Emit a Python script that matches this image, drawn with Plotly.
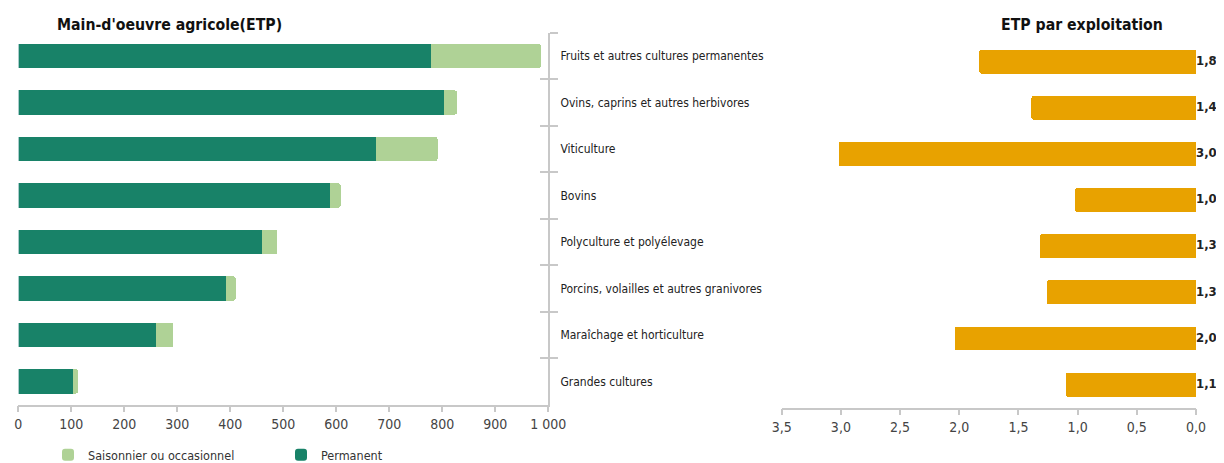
import plotly.graph_objects as go

categories = [
    "Fruits et autres cultures permanentes",
    "Ovins, caprins et autres herbivores",
    "Viticulture",
    "Bovins",
    "Polyculture et polyélevage",
    "Porcins, volailles et autres granivores",
    "Maraîchage et horticulture",
    "Grandes cultures",
]
permanent = [779, 803, 674, 588, 459, 392, 260, 104]
saisonnier = [207, 25, 117, 20, 30, 18, 32, 9]
etp_par_exploitation = [1.83, 1.39, 3.02, 1.02, 1.32, 1.26, 2.04, 1.10]
left_ticks = [0, 100, 200, 300, 400, 500, 600, 700, 800, 900, 1000]
right_ticks = [3.5, 3.0, 2.5, 2.0, 1.5, 1.0, 0.5, 0.0]

FONT = "DejaVu Sans Condensed, Liberation Sans Narrow, Arial Narrow, sans-serif"
C_PERM = "#188268"
C_SAIS = "#AFD296"
C_ETP = "#E8A200"
AX = "#C8C8C8"
# the page body adds an 8 px offset; the figure is sized so it ends at the window edge
OFF = 8
W, H = 1224 - OFF, 463 - OFF


def px(x):
    return (x - OFF) / W


def py(y):
    return 1 - (y - OFF) / H


fig = go.Figure()
fig.add_trace(go.Bar(y=categories, x=permanent, orientation="h", name="Permanent",
                     marker=dict(color=C_PERM, line=dict(width=0)), xaxis="x", yaxis="y"))
fig.add_trace(go.Bar(y=categories, x=saisonnier, orientation="h", name="Saisonnier ou occasionnel",
                     marker=dict(color=C_SAIS, line=dict(width=0)), xaxis="x", yaxis="y"))
fig.add_trace(go.Bar(y=categories, x=etp_par_exploitation, orientation="h", showlegend=False,
                     marker=dict(color=C_ETP, line=dict(width=0)), xaxis="x2", yaxis="y2"))
fig.add_trace(go.Scatter(y=categories, x=[0] * len(categories), mode="text",
                         text=[f"{v:.1f}".replace(".", ",") for v in etp_par_exploitation],
                         textposition="middle right", cliponaxis=False, showlegend=False,
                         textfont=dict(family=FONT, size=13, color="#222"),
                         texttemplate="<b>%{text}</b>",
                         xaxis="x2", yaxis="y2", hoverinfo="skip"))
# transparent helper trace so the overlay axis (inner tick marks) is drawn
fig.add_trace(go.Bar(y=categories, x=[0] * len(categories), orientation="h", showlegend=False,
                     xaxis="x", yaxis="y3", hoverinfo="skip", marker=dict(color="rgba(0,0,0,0)")))

tickfont = dict(family=FONT, size=14, color="#444")
left_dom_x = [px(18.3), px(548.3)]
left_dom_y = [py(404.7), py(32.8)]
right_dom_x = [px(781.7), px(1196)]
right_dom_y = [py(407.7), py(38.6)]

fig.update_layout(
    width=W, height=H,
    margin=dict(l=0, r=0, t=0, b=0, autoexpand=False),
    paper_bgcolor="white", plot_bgcolor="white",
    separators=", ",
    barmode="stack", bargap=0.48, barcornerradius=2,
    font=dict(family=FONT, size=13, color="#333"),
    xaxis=dict(domain=left_dom_x, range=[0, 1000], tickvals=left_ticks, tickformat=",d",
               showline=True, linecolor=AX, linewidth=1.5, ticks="outside", ticklen=6,
               tickcolor=AX, tickwidth=1.5, showgrid=False, zeroline=False, automargin=False,
               tickfont=tickfont, anchor="y", fixedrange=True),
    yaxis=dict(domain=left_dom_y, autorange="reversed", side="right", anchor="x",
               showline=True, linecolor=AX, linewidth=1.5, ticks="outside", ticklen=8,
               tickcolor=AX, tickwidth=1.5, tickson="boundaries", showgrid=False,
               automargin=False,
               tickfont=dict(family=FONT, size=12, color="#222"), ticklabelstandoff=8),
    yaxis3=dict(domain=left_dom_y, autorange="reversed", side="right", anchor="x",
                overlaying="y", matches="y", showline=False, ticks="inside", ticklen=8,
                tickcolor=AX, tickwidth=1.5, tickson="boundaries", showticklabels=False,
                showgrid=False, automargin=False),
    xaxis2=dict(domain=right_dom_x, range=[3.5, 0], tickvals=right_ticks, tickformat=".1f",
                showline=True, linecolor=AX, linewidth=1.5, ticks="outside", ticklen=6,
                tickcolor=AX, tickwidth=1.5, showgrid=False, zeroline=False, automargin=False,
                tickfont=tickfont, anchor="y2"),
    yaxis2=dict(domain=right_dom_y, autorange="reversed", anchor="x2", visible=False,
                automargin=False),
    legend=dict(orientation="h", traceorder="reversed", x=px(48), xanchor="left",
                y=-7 / H, yanchor="bottom", font=dict(family=FONT, size=12.5, color="#333"),
                entrywidth=188, entrywidthmode="pixels", itemwidth=30,
                bgcolor="rgba(0,0,0,0)"),
    annotations=[
        dict(text="<b>Main-d'oeuvre agricole(ETP)</b>", x=px(169), y=py(25),
             xref="paper", yref="paper", showarrow=False, xanchor="center", yanchor="middle",
             font=dict(family=FONT, size=15.7, color="#111")),
        dict(text="<b>ETP par exploitation</b>", x=px(1082), y=py(25),
             xref="paper", yref="paper", showarrow=False, xanchor="center", yanchor="middle",
             font=dict(family=FONT, size=15.7, color="#111")),
    ],
)

fig.write_html("out.html")
